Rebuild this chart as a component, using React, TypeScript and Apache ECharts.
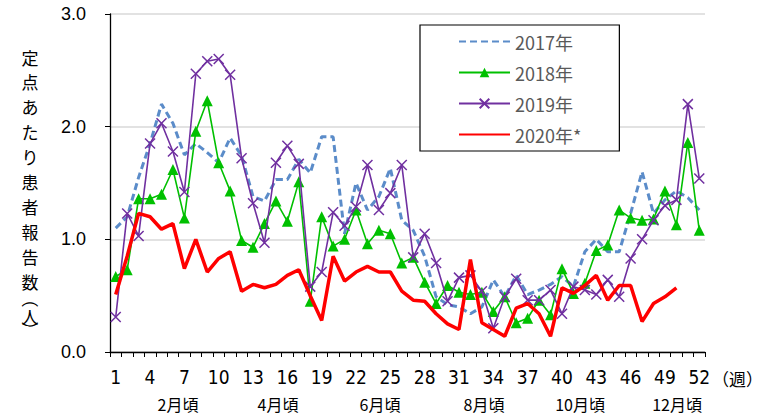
import React, { useEffect, useRef } from "react";
import * as echarts from "echarts";

const weeks: string[] = Array.from({ length: 52 }, (_, i) => String(i + 1));

const seriesNames = ["2017年", "2018年", "2019年", "2020年*"];

const data2017 = [
  1.10, 1.20, 1.55, 1.85, 2.20, 2.03, 1.75, 1.85, 1.77, 1.68,
  1.90, 1.74, 1.38, 1.34, 1.53, 1.53, 1.71, 1.59, 1.91, 1.91,
  1.05, 1.50, 1.26, 1.38, 1.63, 1.17, 1.08, 0.85, 0.49, 0.42,
  0.40, 0.34, 0.40, 0.64, 0.49, 0.68, 0.51, 0.55, 0.60, 0.67,
  0.58, 0.89, 1.00, 0.89, 0.89, 1.23, 1.60, 1.23, 1.35, 1.43,
  1.37, 1.26,
];

const data2018 = [
  0.67, 0.73, 1.36, 1.36, 1.40, 1.62, 1.19, 1.96, 2.23, 1.68,
  1.43, 0.99, 0.93, 1.14, 1.34, 1.16, 1.51, 0.45, 1.20, 0.94,
  1.00, 1.26, 0.96, 1.08, 1.05, 0.79, 0.84, 0.62, 0.43, 0.59,
  0.53, 0.51, 0.53, 0.36, 0.49, 0.26, 0.30, 0.46, 0.33, 0.74,
  0.52, 0.61, 0.90, 0.95, 1.26, 1.19, 1.17, 1.18, 1.43, 1.13,
  1.86, 1.08,
];

const data2019 = [
  0.31, 1.23, 1.03, 1.85, 2.03, 1.78, 1.42, 2.47, 2.58, 2.60,
  2.46, 1.72, 1.32, 0.97, 1.68, 1.83, 1.67, 0.58, 0.71, 1.24,
  1.12, 1.29, 1.66, 1.26, 1.41, 1.66, 0.84, 1.05, 0.79, 0.45,
  0.66, 0.68, 0.54, 0.21, 0.49, 0.65, 0.46, 0.46, 0.55, 0.34,
  0.58, 0.55, 0.51, 0.64, 0.49, 0.83, 1.00, 1.17, 1.30, 1.35,
  2.20, 1.54,
];

const data2020: (number | null)[] = [
  0.51, 0.85, 1.23, 1.20, 1.09, 1.14, 0.74, 1.00, 0.71, 0.83,
  0.89, 0.54, 0.60, 0.57, 0.60, 0.68, 0.73, 0.50, 0.28, 0.85,
  0.63, 0.71, 0.76, 0.71, 0.71, 0.54, 0.46, 0.45, 0.34, 0.25,
  0.20, 0.82, 0.26, 0.20, 0.14, 0.39, 0.43, 0.34, 0.14, 0.57,
  0.52, 0.59, 0.68, 0.46, 0.59, 0.59, 0.27, 0.43, 0.49, 0.57,
  null, null,
];

const yTicks = [0, 1, 2, 3];
const monthLabels = ["2月頃", "4月頃", "6月頃", "8月頃", "10月頃", "12月頃"];
const weekUnit = "（週）";
const yTitle = "定点あたり患者報告数（人）";

export default function App() {
  const ref = useRef<HTMLDivElement>(null);

  useEffect(() => {
    if (!ref.current) return;
    const chart = echarts.init(ref.current, undefined, { renderer: "svg" });

    const monthX = [178, 278, 380, 484, 580, 677];
    const graphics: any[] = monthLabels.map((t, i) => ({
      type: "text",
      x: monthX[i],
      y: 404,
      style: {
        text: t,
        font: '16px "Liberation Sans Narrow", "Noto Sans CJK JP", sans-serif',
        fill: "#000",
        align: "center",
        verticalAlign: "middle",
      },
    }));
    graphics.push({
      type: "text",
      x: 712,
      y: 378,
      style: {
        text: weekUnit,
        font: '17px "Noto Sans CJK JP", sans-serif',
        fill: "#000",
        align: "left",
        verticalAlign: "middle",
      },
    });
    // vertical y-axis title, one character per line
    const chars = Array.from(yTitle);
    const steps = chars.map((ch, i) => {
      if (i === 0) return 0;
      if (ch === "（") return 18;
      if (ch === "人") return 17;
      if (ch === "）") return 14;
      return 24.9;
    });
    let cy = 57;
    chars.forEach((ch, i) => {
      cy += steps[i];
      const isParen = ch === "（" || ch === "）";
      graphics.push({
        type: "text",
        x: 30,
        y: cy,
        rotation: isParen ? -Math.PI / 2 : 0,
        style: {
          text: ch,
          font: '17px "Noto Sans CJK JP", sans-serif',
          fill: "#000",
          align: "center",
          verticalAlign: "middle",
        },
      });
    });

    const hiddenSymbol = { color: "rgba(0,0,0,0)", borderWidth: 0, opacity: 0 };

    chart.setOption({
      animation: false,
      backgroundColor: "#fff",
      grid: { left: 110, right: 66, top: 14, bottom: 64, containLabel: false },
      legend: {
        left: 420,
        top: 25,
        orient: "vertical",
        backgroundColor: "#fff",
        borderColor: "#000",
        borderWidth: 1.2,
        padding: [6, 38, 6, 38],
        itemWidth: 51,
        itemHeight: 12,
        itemGap: 10,
        textStyle: {
          fontSize: 18,
          color: "#595959",
          fontFamily: '"Noto Sans CJK JP", sans-serif',
          lineHeight: 21,
        },
        data: [
          { name: seriesNames[0], itemStyle: hiddenSymbol },
          { name: seriesNames[1] },
          { name: seriesNames[2] },
          { name: seriesNames[3], itemStyle: hiddenSymbol },
        ],
      },
      xAxis: {
        type: "category",
        data: weeks,
        boundaryGap: true,
        axisLine: { lineStyle: { color: "#000", width: 1.3 } },
        axisTick: { show: true, interval: 0, length: 5, lineStyle: { color: "#000" } },
        axisLabel: {
          interval: 2,
          margin: 15,
          fontSize: 19,
          color: "#000",
          fontFamily: '"Liberation Sans Narrow", "DejaVu Sans Condensed", sans-serif',
        },
        splitLine: { show: false },
      },
      yAxis: {
        type: "value",
        min: yTicks[0],
        max: yTicks[yTicks.length - 1],
        interval: 1,
        axisLine: { show: true, lineStyle: { color: "#000", width: 1.3 } },
        axisTick: { show: true, length: 5, lineStyle: { color: "#000" } },
        axisLabel: {
          formatter: (v: number) => v.toFixed(1),
          fontSize: 18,
          color: "#000",
          margin: 24,
          fontFamily: '"Liberation Sans", Arial, sans-serif',
        },
        splitLine: { show: true, lineStyle: { color: "#d9d9d9", width: 1.5 } },
      },
      graphic: graphics,
      series: [
        {
          name: seriesNames[0],
          type: "line",
          data: data2017,
          symbol: "none",
          z: 2,
          lineStyle: { color: "#5b8cc9", width: 3, type: [7, 4] },
          itemStyle: { color: "#5b8cc9" },
        },
        {
          name: seriesNames[1],
          type: "line",
          data: data2018,
          symbol: "triangle",
          symbolSize: 11,
          showAllSymbol: true,
          z: 3,
          lineStyle: { color: "#00c000", width: 1.6 },
          itemStyle: { color: "#00c000" },
        },
        {
          name: seriesNames[2],
          type: "line",
          data: data2019,
          symbol: "path://M0,0L10,10M10,0L0,10",
          symbolSize: 10,
          showAllSymbol: true,
          z: 4,
          lineStyle: { color: "#7030a0", width: 1.6 },
          itemStyle: { color: "#7030a0", borderColor: "#7030a0", borderWidth: 1.5 },
        },
        {
          name: seriesNames[3],
          type: "line",
          data: data2020,
          symbol: "none",
          z: 5,
          lineStyle: { color: "#ff0000", width: 3.5 },
          itemStyle: { color: "#ff0000" },
        },
      ],
    });

    return () => chart.dispose();
  }, []);

  return <div ref={ref} style={{ width: 771, height: 416, position: "absolute", left: 0, top: 0 }} />;
}
